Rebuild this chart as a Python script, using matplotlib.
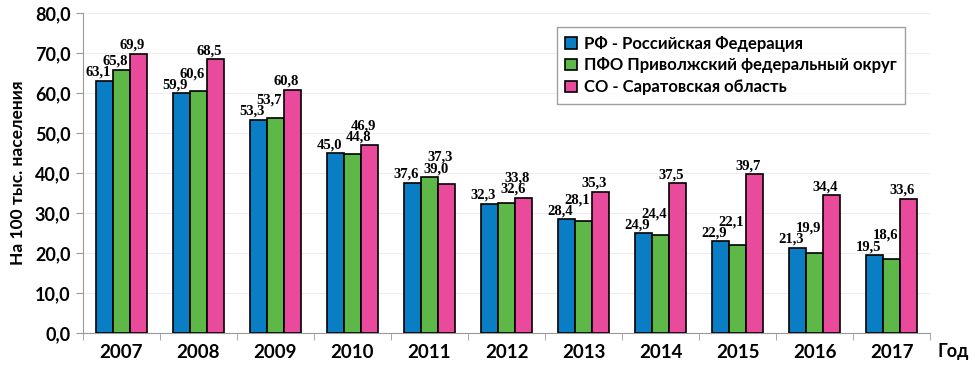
import matplotlib
matplotlib.use('Agg')
import matplotlib.pyplot as plt
import numpy as np

years = ['2007', '2008', '2009', '2010', '2011', '2012', '2013', '2014', '2015', '2016', '2017']
rf = [63.1, 59.9, 53.3, 45.0, 37.6, 32.3, 28.4, 24.9, 22.9, 21.3, 19.5]
pfo = [65.8, 60.6, 53.7, 44.8, 39.0, 32.6, 28.1, 24.4, 22.1, 19.9, 18.6]
so = [69.9, 68.5, 60.8, 46.9, 37.3, 33.8, 35.3, 37.5, 39.7, 34.4, 33.6]
names = ['РФ - Российская Федерация', 'ПФО Приволжский федеральный округ', 'СО - Саратовская область']
colors = ['#0A7EC4', '#5DB847', '#EA4A9C']

plt.rcParams['font.family'] = ['Lato', 'DejaVu Sans']

fig = plt.figure(figsize=(9.75, 3.75), dpi=100)
ax = fig.add_axes([0.085, 0.112, 0.869, 0.853])

x = np.arange(len(years))
w = 0.22
series = [rf, pfo, so]
for i, vals in enumerate(series):
    ax.bar(x + (i - 1) * w, vals, w, color=colors[i], edgecolor='black', linewidth=1.2,
           label=names[i], zorder=3)

# value labels: put each one as low as possible without hitting bars or other labels
lab_w = 0.36   # label width incl. gap, category units
lab_h = 2.8    # label height, data units
pad = 0.5
for j in range(len(years)):
    centers = [x[j] + (i - 1) * w for i in range(3)]
    tops = [s[j] for s in series]
    placed = []
    for i in range(3):
        best = None
        for dx in (-0.08, -0.04, 0.0, 0.04, 0.08):
            cx = centers[i] + dx
            y0 = pad
            for c, t in zip(centers, tops):
                if abs(cx - c) < (0.32 + w) / 2 - 1e-6:
                    y0 = max(y0, t + pad)
            for _ in range(10):
                hit = [by for bx, by in placed
                       if abs(cx - bx) < lab_w - 1e-6 and abs(y0 - by) < lab_h - 1e-6]
                if not hit:
                    break
                y0 = max(hit) + lab_h
            if best is None or y0 < best[1] - 1e-6:
                best = (cx, y0)
        placed.append(best)
        ax.text(best[0], best[1], f'{tops[i]:.1f}'.replace('.', ','), ha='center', va='bottom',
                family=['Liberation Serif'], fontweight='bold', fontsize=10.5, zorder=4)

ax.set_ylim(0, 80)
ax.set_xlim(-0.5, len(years) - 0.5)
ax.set_yticks(np.arange(0, 81, 10))
ax.set_yticklabels([f'{v:.1f}'.replace('.', ',') for v in np.arange(0, 81, 10)],
                   fontsize=13, fontweight='bold')
ax.set_xticks(x)
ax.set_xticklabels(years, fontsize=13.5, fontweight='bold')
ax.set_xticks(np.arange(-0.5, len(years)), minor=True)
ax.tick_params(axis='x', which='major', length=0, pad=8)
ax.tick_params(axis='x', which='minor', length=5, color='#999999')
ax.tick_params(axis='y', length=5, color='#999999', pad=4)
ax.grid(axis='y', color='#eeeeee', linewidth=0.8, zorder=0)
for s in ['top', 'right']:
    ax.spines[s].set_visible(False)
for s in ['left', 'bottom']:
    ax.spines[s].set_color('#999999')

ax.set_ylabel('На 100 тыс. населения', fontsize=12.5, fontweight='bold', labelpad=6)
fig.text(0.962, 0.062, 'Год', ha='left', va='center', fontsize=13, fontweight='bold')

leg = ax.legend(loc='upper right', bbox_to_anchor=(0.97, 0.956), fancybox=False,
                edgecolor='#888888', prop={'weight': 'bold', 'size': 12},
                handlelength=0.7, handleheight=0.7, handletextpad=0.4,
                borderpad=0.5, labelspacing=0.35, borderaxespad=0)
leg.get_frame().set_linewidth(1.0)
for h in leg.legend_handles:
    h.set_linewidth(1.2)

fig.savefig('out.png', dpi=100)
